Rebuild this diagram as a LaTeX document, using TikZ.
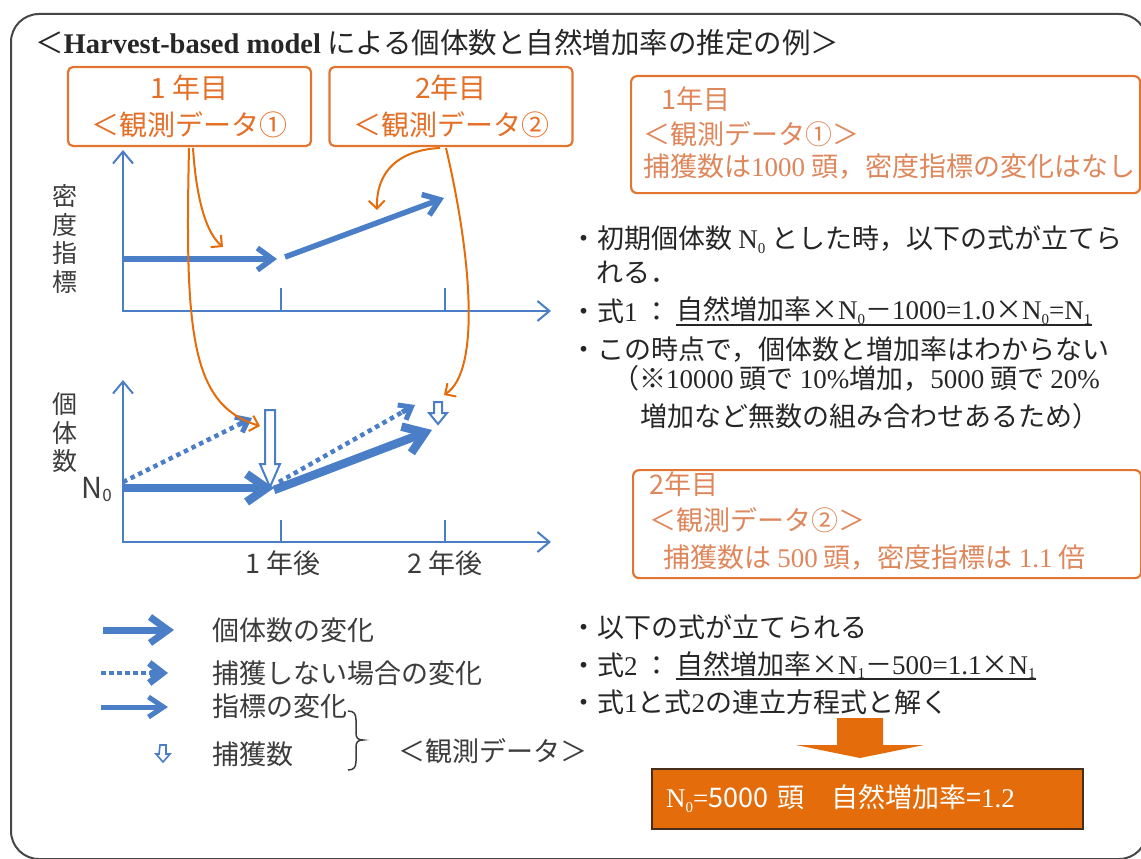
\documentclass[tikz,border=0pt]{standalone}
\usepackage{fontspec}
\setmainfont{Noto Sans CJK JP}
\newfontfamily\lser{Liberation Serif}
\usetikzlibrary{arrows.meta}
\definecolor{blu}{RGB}{74,126,198}
\definecolor{orgb}{RGB}{226,118,48}
\definecolor{orgt}{RGB}{228,112,40}
\definecolor{orgl}{RGB}{222,135,92}
\definecolor{orgf}{RGB}{228,108,10}
\definecolor{txtc}{RGB}{38,38,38}
\definecolor{gtxt}{RGB}{60,60,60}
\definecolor{frm}{RGB}{70,70,70}
\newcommand\fsl[2]{\fontsize{#1}{#2}\selectfont}
\newcommand\lsub[1]{\raisebox{-0.18em}{\fontsize{15}{15}\selectfont #1}}
\begin{document}
\begin{tikzpicture}[x=1pt,y=-1pt,
  txt/.style={inner sep=0pt,anchor=west,text=txtc,font=\fsl{27}{32}},
  gtx/.style={inner sep=0pt,text=gtxt,font=\fsl{27}{32}},
  obox/.style={draw=orgb,line width=2.2pt,rounded corners=5pt,text=orgt,align=center,inner sep=0pt},
  ibox/.style={draw=orgb,line width=2.2pt,rounded corners=6pt,inner sep=0pt,anchor=north west},
  itx/.style={inner sep=0pt,anchor=west,text=orgl,font=\fsl{27}{32}},
  axis/.style={draw=blu,line width=2.2pt,{Straight Barb[length=12pt,width=20pt,line width=2pt]}-{Straight Barb[length=12pt,width=20pt,line width=2pt]}},
  tickm/.style={draw=blu,line width=2.2pt},
  thinarr/.style={draw=blu,line width=5.5pt,-{Straight Barb[length=15pt,width=22pt]}},
  thickarr/.style={draw=blu,line width=8.5pt,-{Straight Barb[length=20pt,width=28pt]}},
  dotline/.style={draw=blu,line width=4.5pt,dash pattern=on 4.5pt off 4pt},
  dothead/.style={draw=blu,line width=5pt,-{Straight Barb[length=11pt,width=17pt]}},
  oarr/.style={draw=orgf,line width=2pt,-{Straight Barb[length=8pt,width=16pt]}},
  hollow/.style={draw=blu,fill=white,line width=2pt,line join=miter}
]
\useasboundingbox (0,0) rectangle (1141,859);
\node[draw=frm,line width=2pt,rounded corners=28pt,minimum width=1136,minimum height=845,anchor=north west,inner sep=0pt] (frame) at (10,13) {};

% title
\node[txt,font=\fsl{28.5}{32}] (title) at (35,43) {＜{\lser\bfseries Harvest-based model} による個体数と自然増加率の推定の例＞};

% observation boxes
\node[obox,minimum width=243,minimum height=79,font=\fsl{28}{37}] (b1) at (189.5,106.5) {1 年目\\＜観測データ①};
\node[obox,minimum width=243,minimum height=79,font=\fsl{28}{37}] (b2) at (451,106.5) {2年目\\＜観測データ②};

% top chart
\node[gtx,align=center,font=\fsl{25}{28.7}] (ylab1) at (65,239) {密\\度\\指\\標};
\coordinate (ty) at (123,150);
\coordinate (to) at (123,311);
\coordinate (tx) at (551,311);
\draw[axis] (ty) -- (to) -- (tx);
\coordinate (tk1a) at (281,288); \coordinate (tk1b) at (281,311);
\coordinate (tk2a) at (445,288); \coordinate (tk2b) at (445,311);
\draw[tickm] (tk1a) -- (tk1b);
\draw[tickm] (tk2a) -- (tk2b);
\coordinate (ia) at (123,259); \coordinate (ib) at (277,259);
\coordinate (ic) at (285,257); \coordinate (id) at (444,198);
\draw[thinarr] (ia) -- (ib);
\draw[thinarr] (ic) -- (id);

% bottom chart
\node[gtx,align=center,font=\fsl{25}{28.5}] (ylab2) at (65,433) {個\\体\\数};
\node[gtx,anchor=base east] (n0) at (112,498) {\fsl{29}{32}N\raisebox{-3pt}{\fsl{17}{20}0}};
\coordinate (by) at (123,380);
\coordinate (bo) at (123,542);
\coordinate (bx) at (551,542);
\draw[axis] (by) -- (bo) -- (bx);
\coordinate (bk1a) at (281,520); \coordinate (bk1b) at (281,542);
\coordinate (bk2a) at (445,520); \coordinate (bk2b) at (445,542);
\draw[tickm] (bk1a) -- (bk1b);
\draw[tickm] (bk2a) -- (bk2b);
\node[gtx] (yr1) at (283,563) {1 年後};
\node[gtx] (yr2) at (445,563) {2 年後};

\coordinate (pa) at (123,482); \coordinate (pb0) at (238,425); \coordinate (pb) at (252,418);
\coordinate (pc) at (279,482); \coordinate (pd0) at (402,412.3); \coordinate (pd) at (415,405);
\draw[dotline] (pa) -- (pb0);
\draw[dothead] (pb0) -- (pb);
\draw[dotline] (pc) -- (pd0);
\draw[dothead] (pd0) -- (pd);
\coordinate (qa) at (123,488); \coordinate (qb) at (274,488);
\coordinate (qc) at (274,490); \coordinate (qd) at (432,430);
\draw[thickarr] (qa) -- (qb);
\draw[thickarr] (qc) -- (qd);

% harvest arrows
\coordinate (h1) at (270,487);
\draw[hollow] (h1) ++(-5,-77) -- ++(10,0) -- ++(0,54) -- ++(5,0) -- (h1) -- ++(-10,-23) -- ++(5,0) -- cycle;
\coordinate (h2) at (438,424);
\draw[hollow] (h2) ++(-4,-22) -- ++(8,0) -- ++(0,11) -- ++(5,0) -- (h2) -- ++(-9,-11) -- ++(5,0) -- cycle;

% orange connectors
\coordinate (c1s) at (193,148); \coordinate (c1e) at (223,247);
\coordinate (c2s) at (189,148); \coordinate (c2e) at (260,426);
\coordinate (c3s) at (440,148); \coordinate (c3e) at (377,210);
\coordinate (c4s) at (446,148); \coordinate (c4e) at (444,395);
\draw[oarr] (c1s) .. controls (196,195) and (205,232) .. (c1e);
\draw[oarr] (c2s) .. controls (185,330) and (190,405) .. (c2e);
\draw[oarr] (c3s) .. controls (400,150) and (376,170) .. (c3e);
\draw[oarr] (c4s) .. controls (470,250) and (482,370) .. (c4e);

% legend
\coordinate (la1) at (103,630); \coordinate (la2) at (174,630);
\draw[draw=blu,line width=7pt,-{Straight Barb[length=18pt,width=26pt]}] (la1) -- (la2);
\coordinate (lb1) at (101,673); \coordinate (lb0) at (150,673); \coordinate (lb2) at (168,673);
\draw[dotline,dash pattern=on 4.5pt off 3.5pt] (lb1) -- (lb0);
\draw[draw=blu,line width=7pt,-{Straight Barb[length=13pt,width=20pt]}] (lb0) -- (lb2);
\coordinate (lc1) at (101,707); \coordinate (lc2) at (168,707);
\draw[draw=blu,line width=5pt,-{Straight Barb[length=15pt,width=20pt]}] (lc1) -- (lc2);
\coordinate (h3) at (163,762);
\draw[hollow,line width=1.6pt] (h3) ++(-3,-17) -- ++(6,0) -- ++(0,9) -- ++(4,0) -- (h3) -- ++(-7,-8) -- ++(3,0) -- cycle;
\node[gtx,anchor=west] (lt1) at (212,630) {個体数の変化};
\node[gtx,anchor=west] (lt2) at (212,673) {捕獲しない場合の変化};
\node[gtx,anchor=west] (lt3) at (212,706) {指標の変化};
\node[gtx,anchor=west] (lt4) at (212,754) {捕獲数};
\coordinate (br1) at (348,711); \coordinate (br2) at (348,770);
\draw[draw=gtxt,line width=1.5pt] (br1) .. controls (354,711) and (356,714) .. (356,720) -- (356,733) .. controls (356,738) and (358,740) .. (363,740) .. controls (358,740) and (356,742) .. (356,747) -- (356,761) .. controls (356,767) and (354,770) .. (br2);
\node[gtx,anchor=west] (lt5) at (398,751) {＜観測データ＞};

% right: year 1 box
\node[ibox,minimum width=509,minimum height=117] (b3) at (630,75) {};
\node[itx] (b3a) at (661,99) {1年目};
\node[itx] (b3b) at (643,134) {＜観測データ①＞};
\node[itx] (b3c) at (643,167) {捕獲数は{\lser 1000} 頭，密度指標の変化はなし};

\node[txt] (s1) at (570,240) {・初期個体数 {\lser N\lsub{0}} とした時，以下の式が立てら};
\node[txt] (s2) at (596,272) {れる．};
\node[txt] (s3) at (570,311) {・式{\lser 1} ：};
\node[txt] (eq1) at (676,311) {自然増加率×{\lser N\lsub{0}}－{\lser 1000=1.0}×{\lser N\lsub{0}=N\lsub{1}}};
\draw[txtc,line width=1.3pt] ([yshift=-5pt]eq1.base west) -- ([yshift=-5pt]eq1.base east);
\node[txt] (s4) at (570,350) {・この時点で，個体数と増加率はわからない};
\node[txt] (s5) at (612,378) {（※{\lser 10000} 頭で {\lser 10\%}増加，{\lser 5000} 頭で {\lser 20\%}};
\node[txt] (s6) at (640,416) {増加など無数の組み合わせあるため）};

% right: year 2 box
\node[ibox,minimum width=508,minimum height=108] (b4) at (632,469) {};
\node[itx] (b4a) at (649,484) {2年目};
\node[itx] (b4b) at (649,520) {＜観測データ②＞};
\node[itx] (b4c) at (663,558) {捕獲数は {\lser 500} 頭，密度指標は {\lser 1.1} 倍};

\node[txt] (s7) at (570,627) {・以下の式が立てられる};
\node[txt] (s8) at (570,665) {・式{\lser 2} ：};
\node[txt] (eq2) at (676,665) {自然増加率×{\lser N\lsub{1}}－{\lser 500=1.1}×{\lser N\lsub{1}}};
\draw[txtc,line width=1.3pt] ([yshift=-5pt]eq2.base west) -- ([yshift=-5pt]eq2.base east);
\node[txt] (s9) at (570,702) {・式{\lser 1}と式{\lser 2}の連立方程式と解く};

% result
\coordinate (ra) at (860,758);
\fill[orgf] (ra) ++(-23,-40) -- ++(46,0) -- ++(0,27) -- ++(41,0) -- (ra) -- ++(-64,-13) -- ++(41,0) -- cycle;
\node[draw={rgb,255:red,70;green,45;blue,30},line width=2pt,fill=orgf,anchor=north west,minimum width=431,minimum height=60,text width=403,inner xsep=14pt,align=left,text=white,font=\fsl{27}{32}] (res) at (651,768) {{\lser N\lsub{0}=}5000 頭　自然増加率={\lser 1.2}};
\end{tikzpicture}
\end{document}
